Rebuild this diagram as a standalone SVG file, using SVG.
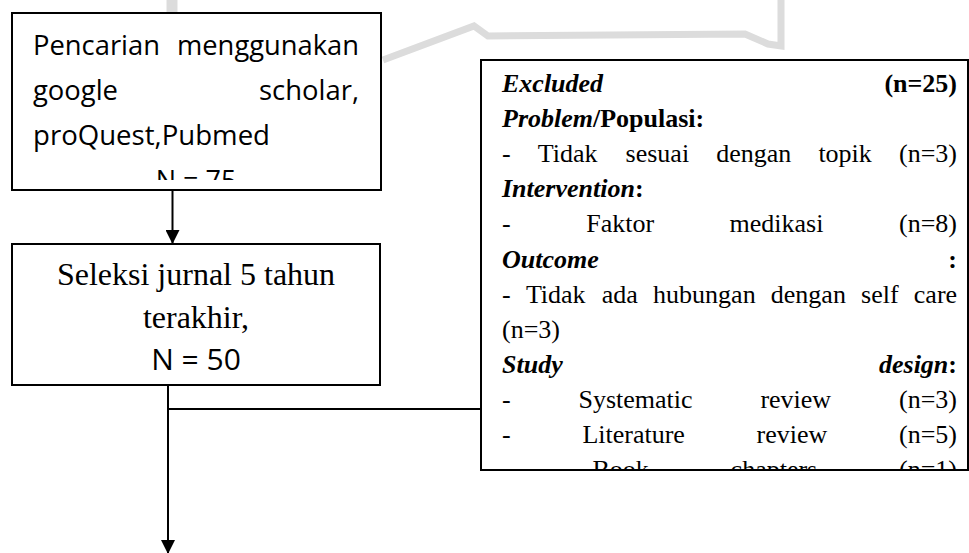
<svg xmlns="http://www.w3.org/2000/svg" width="969" height="553" viewBox="0 0 969 553">
<style>
.box{fill:#fff;stroke:#000;stroke-width:2}
.sans{font-family:"Open Sans","Liberation Sans",sans-serif;fill:#000}
.serif{font-family:"Liberation Serif","Times New Roman",serif;fill:#000}
.r{font-size:26px}
.bi{font-weight:bold;font-style:italic}
.b{font-weight:bold}
.line{stroke:#000;stroke-width:2;fill:none}
.wm{stroke:#dcdcdc;fill:none;stroke-linejoin:miter}
</style>
<defs>
<marker id="arr" markerWidth="14" markerHeight="14" refX="13" refY="7" orient="auto" markerUnits="userSpaceOnUse">
<path d="M0,0 L14,7 L0,14 Z" fill="#000"/>
</marker>
<clipPath id="c1"><rect x="13" y="14" width="367" height="166"/></clipPath>
<clipPath id="c3"><rect x="482" y="61" width="486" height="408"/></clipPath>
</defs>
<rect width="969" height="553" fill="#fff"/>
<g id="watermark">
<path class="wm" stroke-width="11" d="M172,0 L172,14"/>
<path class="wm" stroke-width="7" d="M383,60 L474,26 L488,36 L745,34 L768,44 L781,46 L781,0"/>
</g>
<g id="connectors">
<line class="line" x1="172.5" y1="190" x2="172.5" y2="243" marker-end="url(#arr)"/>
<line class="line" x1="168" y1="385" x2="168" y2="553" marker-end="url(#arr)"/>
<line class="line" x1="168" y1="409" x2="481" y2="409"/>
</g>
<g id="node-search">
<rect class="box" x="12" y="13" width="369" height="177"/>
<g clip-path="url(#c1)" class="sans" font-size="27">
<text x="33" y="55" textLength="127" lengthAdjust="spacingAndGlyphs">Pencarian</text>
<text x="177" y="55" textLength="182" lengthAdjust="spacingAndGlyphs">menggunakan</text>
<text x="33" y="100" textLength="85" lengthAdjust="spacingAndGlyphs">google</text>
<text x="259" y="100" textLength="100" lengthAdjust="spacingAndGlyphs">scholar,</text>
<text x="33" y="145" textLength="237" lengthAdjust="spacingAndGlyphs">proQuest,Pubmed</text>
<text x="196" y="190" text-anchor="middle">N = 75</text>
</g>
</g>
<g id="node-selection">
<rect class="box" x="12" y="244" width="368" height="141"/>
<text class="serif" font-size="32" x="196" y="285" text-anchor="middle">Seleksi jurnal 5 tahun</text>
<text class="serif" font-size="32" x="196" y="328" text-anchor="middle">terakhir,</text>
<text class="sans" font-size="30" x="196" y="370" text-anchor="middle">N = 50</text>
</g>
<g id="node-excluded">
<rect class="box" x="481" y="60" width="487" height="410"/>
<g clip-path="url(#c3)" class="serif r">
<text x="502" y="92" class="bi">Excluded</text>
<text x="957" y="92" class="b" text-anchor="end">(n=25)</text>
<text x="502" y="127.1"><tspan class="bi">Problem</tspan><tspan class="b">/Populasi:</tspan></text>
<text y="162.2"><tspan x="502">-</tspan><tspan x="537.8">Tidak</tspan><tspan x="625.6">sesuai</tspan><tspan x="716.2">dengan</tspan><tspan x="818.4">topik</tspan><tspan x="899">(n=3)</tspan></text>
<text x="502" y="197.3"><tspan class="bi">Intervention</tspan><tspan class="b">:</tspan></text>
<text y="232.4"><tspan x="502">-</tspan><tspan x="586.2">Faktor</tspan><tspan x="729.6">medikasi</tspan><tspan x="899">(n=8)</tspan></text>
<text x="502" y="267.5" class="bi">Outcome</text>
<text x="957" y="267.5" class="b" text-anchor="end">:</text>
<text y="302.6"><tspan x="502">-</tspan><tspan x="525.9">Tidak</tspan><tspan x="601.8">ada</tspan><tspan x="653.1">hubungan</tspan><tspan x="770.8">dengan</tspan><tspan x="861.1">self</tspan><tspan x="913.8">care</tspan></text>
<text x="502" y="337.7">(n=3)</text>
<text x="502" y="372.8" class="bi">Study</text>
<text x="957" y="372.8" text-anchor="end"><tspan class="bi">design</tspan><tspan class="b">:</tspan></text>
<text y="407.9"><tspan x="502">-</tspan><tspan x="578.5">Systematic</tspan><tspan x="760.4">review</tspan><tspan x="899">(n=3)</tspan></text>
<text y="443"><tspan x="502">-</tspan><tspan x="582.4">Literature</tspan><tspan x="756.6">review</tspan><tspan x="899">(n=5)</tspan></text>
<text y="478.1"><tspan x="502">-</tspan><tspan x="592.5">Book</tspan><tspan x="730.6">chapters</tspan><tspan x="899">(n=1)</tspan></text>
</g>
</g>
</svg>
